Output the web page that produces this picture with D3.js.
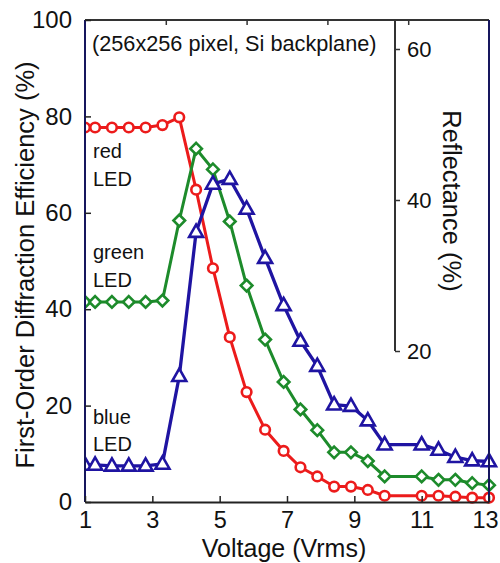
<!DOCTYPE html>
<html><head><meta charset="utf-8">
<script src="https://cdn.jsdelivr.net/npm/d3@7"></script>
<style>
html,body{margin:0;padding:0;background:#fff;}
svg{display:block;font-family:"Liberation Sans",Arial,sans-serif;}
</style></head>
<body><div id="chart"></div>
<script>
const voltages = [1.0, 1.3, 1.8, 2.3, 2.8, 3.3, 3.8, 4.3, 4.8, 5.3, 5.8, 6.35, 6.9, 7.4, 7.9, 8.4, 8.9, 9.4, 9.9, 11.0, 11.5, 12.0, 12.5, 13.0];
const redLED   = [77.7, 77.7, 77.7, 77.7, 77.7, 78.2, 79.8, 64.8, 48.5, 34.2, 22.8, 15.0, 10.6, 7.2, 5.3, 3.2, 3.2, 2.5, 1.3, 1.3, 1.3, 1.1, 0.9, 0.9];
const greenLED = [41.5, 41.5, 41.5, 41.5, 41.5, 41.8, 58.4, 73.3, 69.0, 58.2, 44.9, 33.7, 24.9, 19.2, 14.9, 10.3, 10.3, 8.5, 5.3, 5.3, 4.6, 4.6, 3.9, 3.5];
const blueLED  = [7.7, 7.7, 7.5, 7.5, 7.5, 7.9, 26.1, 56.0, 66.0, 67.0, 60.8, 50.6, 40.8, 33.4, 28.2, 20.2, 19.9, 16.9, 11.9, 11.9, 10.8, 9.3, 8.6, 8.4];
const xTicks = [1, 3, 5, 7, 9, 11, 13];
const yTicks = [0, 20, 40, 60, 80, 100];
const reflTicks = [20, 40, 60];
const topTicks = [1, 2, 3, 4];
const seriesLabels = [["red", "LED"], ["green", "LED"], ["blue", "LED"]];
const annotation = "(256x256 pixel, Si backplane)";

const W = 500, H = 563;
const L = 85, R = 489, T = 20, B = 502;
const svg = d3.select("#chart").append("svg").attr("width", W).attr("height", H);

const x = d3.scaleLinear().domain([1, 13]).range([L, R]);
const y = d3.scaleLinear().domain([0, 100]).range([B, T]);
const yR = d3.scaleLinear().domain([20, 60]).range([351, 49]);
const xTop = d3.scaleLinear().domain([0, 5]).range([L, R]);

const colors = {red: "#ec1b1b", green: "#1d8b2b", blue: "#1f14a2"};
const widths = {red: 3, green: 3, blue: 3.3};
const data = {red: redLED, green: greenLED, blue: blueLED};

svg.append("defs").append("clipPath").attr("id", "clip")
  .append("rect").attr("x", L).attr("y", 0).attr("width", W - L).attr("height", H);

const g = svg.append("g").attr("clip-path", "url(#clip)");

const line = d3.line().x((d, i) => x(voltages[i])).y(d => y(d));

const markerPath = {
  green: "M0,-5.8L5.8,0L0,5.8L-5.8,0Z",
  blue: "M0,-7.5L7,4.8L-7,4.8Z"
};

["red", "green", "blue"].forEach(k => {
  g.append("path").datum(data[k]).attr("d", line)
    .attr("fill", "none").attr("stroke", colors[k]).attr("stroke-width", widths[k])
    .attr("stroke-linejoin", "round");
});
["red", "green", "blue"].forEach(k => {
  const sel = g.append("g").selectAll("*").data(data[k]).enter();
  if (k === "red") {
    sel.append("circle").attr("cx", (d, i) => x(voltages[i])).attr("cy", d => y(d))
      .attr("r", 4.8).attr("fill", "#fff").attr("stroke", colors[k]).attr("stroke-width", 2.6);
  } else {
    sel.append("path").attr("d", markerPath[k])
      .attr("transform", (d, i) => `translate(${x(voltages[i])},${y(d)})`)
      .attr("fill", "#fff").attr("stroke", colors[k]).attr("stroke-width", 2.6)
      .attr("stroke-linejoin", "miter");
  }
});

// frame
svg.append("line").attr("x1", L).attr("x2", R).attr("y1", T).attr("y2", T).attr("stroke", "#333").attr("stroke-width", 2);
svg.append("line").attr("x1", L).attr("x2", L).attr("y1", T).attr("y2", B).attr("stroke", "#16165e").attr("stroke-width", 2);
svg.append("line").attr("x1", R).attr("x2", R).attr("y1", T).attr("y2", B).attr("stroke", "#16165e").attr("stroke-width", 2);

// bottom axis
const xAxis = d3.axisBottom(x).tickValues(xTicks).tickSizeInner(-6).tickSizeOuter(0).tickPadding(9);
const gx = svg.append("g").attr("transform", `translate(0,${B})`).call(xAxis);
gx.select(".domain").attr("stroke", "#222").attr("stroke-width", 2);
gx.selectAll(".tick line").attr("stroke", "#222").attr("stroke-width", 1.5);
gx.selectAll(".tick text").attr("font-size", 23.5).attr("fill", "#111").attr("font-family", "Liberation Sans, Arial")
  .attr("dx", d => d === 13 ? -4 : 0);

// left axis
const yAxis = d3.axisLeft(y).tickValues(yTicks).tickSizeInner(-6).tickSizeOuter(0).tickPadding(12);
const gy = svg.append("g").attr("transform", `translate(${L},0)`).call(yAxis);
gy.select(".domain").remove();
gy.selectAll(".tick line").attr("stroke", "#222").attr("stroke-width", 1.5);
gy.selectAll(".tick text").attr("font-size", 24).attr("fill", "#111").attr("font-family", "Liberation Sans, Arial")
  .attr("dx", -1);

// top ticks
const gt = svg.append("g").attr("transform", `translate(0,${T})`)
  .call(d3.axisTop(xTop).tickValues(topTicks).tickSizeInner(-5).tickSizeOuter(0).tickFormat(""));
gt.select(".domain").remove();
gt.selectAll(".tick line").attr("stroke", "#333").attr("stroke-width", 1.5);

// right inner reflectance axis
const xRA = 395;
svg.append("line").attr("x1", xRA).attr("x2", xRA).attr("y1", T).attr("y2", yR(20)).attr("stroke", "#333").attr("stroke-width", 2);
const gr = svg.append("g").attr("transform", `translate(${xRA},0)`)
  .call(d3.axisRight(yR).tickValues(reflTicks).tickSizeInner(5).tickSizeOuter(0).tickPadding(7));
gr.select(".domain").remove();
gr.selectAll(".tick line").attr("stroke", "#333").attr("stroke-width", 1.5);
gr.selectAll(".tick text").attr("font-size", 22).attr("fill", "#111").attr("font-family", "Liberation Sans, Arial");

// axis titles
svg.append("text").attr("x", (L + R) / 2 - 3).attr("y", 557).attr("text-anchor", "middle")
  .attr("font-size", 25).attr("fill", "#111").text("Voltage (Vrms)");
svg.append("text").attr("transform", "translate(34,265) rotate(-90)").attr("text-anchor", "middle")
  .attr("font-size", 25.5).attr("fill", "#111").text("First-Order Diffraction Efficiency (%)");
svg.append("text").attr("transform", "translate(443,201) rotate(90)").attr("text-anchor", "middle")
  .attr("font-size", 25.5).attr("fill", "#111").text("Reflectance (%)");

// annotation
svg.append("text").attr("x", 92).attr("y", 51).attr("font-size", 21.7).attr("fill", "#111").text(annotation);

// series labels
const labelY = [[158, 186], [259, 287], [424, 451]];
seriesLabels.forEach((lab, i) => {
  lab.forEach((t, j) => {
    svg.append("text").attr("x", 93).attr("y", labelY[i][j]).attr("font-size", 20).attr("fill", "#111").text(t);
  });
});
</script></body></html>
